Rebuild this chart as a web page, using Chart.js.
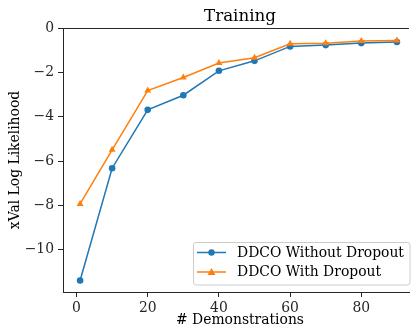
<!DOCTYPE html>
<html><head><meta charset="utf-8">
<script src="https://cdn.jsdelivr.net/npm/chart.js@4"></script>
<style>html,body{margin:0;padding:0;background:#fff;overflow:hidden}#wrap{width:413px;height:326px}</style>
</head><body><div id="wrap"><canvas id="c" width="413" height="326"></canvas></div>
<script>
const demonstrations = [1, 10, 20, 30, 40, 50, 60, 70, 80, 90];
const withoutDropout = [-11.38, -6.32, -3.69, -3.03, -1.93, -1.48, -0.83, -0.77, -0.68, -0.63];
const withDropout = [-7.93, -5.49, -2.82, -2.23, -1.58, -1.34, -0.71, -0.69, -0.59, -0.56];
const xTicks = [0, 20, 40, 60, 80];
const yTicks = [-10, -8, -6, -4, -2, 0];
const seriesLabels = ['DDCO Without Dropout', 'DDCO With Dropout'];
const titleText = 'Training';
const xTitle = '# Demonstrations';
const yTitle = 'xVal Log Likelihood';
const FONT = "'DejaVu Serif', serif";
const FS = 13.9;

const toPts = (xs, ys) => xs.map((x, i) => ({x: x, y: ys[i]}));

const extras = {
  id: 'extras',
  afterDraw(chart) {
    const ctx = chart.ctx, a = chart.chartArea;
    ctx.save();
    // top spine
    ctx.strokeStyle = '#262626'; ctx.lineWidth = 1;
    ctx.beginPath(); ctx.moveTo(a.left, a.top + 0.5); ctx.lineTo(a.right, a.top + 0.5); ctx.stroke();
    // title
    ctx.fillStyle = '#000'; ctx.font = "16.7px " + FONT; ctx.textAlign = 'center'; ctx.textBaseline = 'middle';
    ctx.fillText(titleText, 240, 17);
    // axis titles
    ctx.font = FS + "px " + FONT;
    ctx.fillText(xTitle, 240, 320.5);
    ctx.save(); ctx.translate(15, 160); ctx.rotate(-Math.PI / 2); ctx.fillText(yTitle, 0, 0); ctx.restore();
    // legend
    const bx = 193, by = 242, bw = 217, bh = 43, r = 3;
    ctx.fillStyle = 'rgba(255,255,255,0.8)'; ctx.strokeStyle = '#cccccc'; ctx.lineWidth = 1;
    ctx.beginPath();
    ctx.moveTo(bx + r, by + 0.5); ctx.lineTo(bx + bw - r, by + 0.5); ctx.quadraticCurveTo(bx + bw, by + 0.5, bx + bw, by + r);
    ctx.lineTo(bx + bw, by + bh - r); ctx.quadraticCurveTo(bx + bw, by + bh, bx + bw - r, by + bh);
    ctx.lineTo(bx + r, by + bh); ctx.quadraticCurveTo(bx + 0.5, by + bh, bx + 0.5, by + bh - r);
    ctx.lineTo(bx + 0.5, by + r); ctx.quadraticCurveTo(bx + 0.5, by + 0.5, bx + r, by + 0.5);
    ctx.closePath(); ctx.fill(); ctx.stroke();
    const rows = [252.5, 272];
    chart.data.datasets.forEach((ds, i) => {
      const y = rows[i];
      ctx.strokeStyle = ds.borderColor; ctx.lineWidth = ds.borderWidth;
      ctx.beginPath(); ctx.moveTo(197, y); ctx.lineTo(226, y); ctx.stroke();
      ctx.fillStyle = ds.backgroundColor;
      ctx.beginPath();
      if (ds.pointStyle === 'triangle') {
        const s = 4;
        ctx.moveTo(211.5, y - s); ctx.lineTo(211.5 + s, y + s * 0.75); ctx.lineTo(211.5 - s, y + s * 0.75);
        ctx.closePath();
      } else {
        ctx.arc(211.5, y, 3.2, 0, Math.PI * 2);
      }
      ctx.fill();
      ctx.fillStyle = '#000'; ctx.font = FS + "px " + FONT; ctx.textAlign = 'left'; ctx.textBaseline = 'middle';
      ctx.fillText(ds.label, 237, y + 0.5);
    });
    ctx.restore();
  }
};

new Chart(document.getElementById('c'), {
  type: 'line',
  data: {
    datasets: [
      {label: seriesLabels[0], data: toPts(demonstrations, withoutDropout), borderColor: '#1f77b4', backgroundColor: '#1f77b4',
       borderWidth: 1.5, pointStyle: 'circle', pointRadius: 3.3, pointBorderWidth: 0, tension: 0, order: 1},
      {label: seriesLabels[1], data: toPts(demonstrations, withDropout), borderColor: '#ff7f0e', backgroundColor: '#ff7f0e',
       borderWidth: 1.5, pointStyle: 'triangle', pointRadius: 4, pointBorderWidth: 0, tension: 0, order: 0}
    ]
  },
  options: {
    responsive: false, animation: false, devicePixelRatio: 1,
    layout: {padding: {top: 28, right: 0, left: 0, bottom: 0}},
    plugins: {legend: {display: false}, tooltip: {enabled: false}, title: {display: false}},
    scales: {
      x: {
        type: 'linear', min: -3.8, max: 93.4,
        afterBuildTicks: s => { s.ticks = xTicks.map(v => ({value: v})); },
        afterFit: s => { s.height = 34; },
        grid: {drawOnChartArea: false, drawTicks: true, tickLength: 5, color: '#262626', lineWidth: 1},
        border: {display: true, color: '#262626', width: 1},
        ticks: {color: '#262626', font: {family: FONT, size: FS}, padding: 3, maxRotation: 0, callback: v => String(v)},
        title: {display: false}
      },
      y: {
        type: 'linear', min: -11.9, max: 0,
        afterBuildTicks: s => { s.ticks = yTicks.map(v => ({value: v})); },
        afterFit: s => { s.width = 63; },
        grid: {drawOnChartArea: false, drawTicks: true, tickLength: 5, color: '#262626', lineWidth: 1},
        border: {display: true, color: '#262626', width: 1},
        ticks: {color: '#262626', font: {family: FONT, size: FS}, padding: 4, callback: v => (v < 0 ? '\u2212' + Math.abs(v) : String(v))},
        title: {display: false}
      }
    }
  },
  plugins: [extras]
});
</script></body></html>
